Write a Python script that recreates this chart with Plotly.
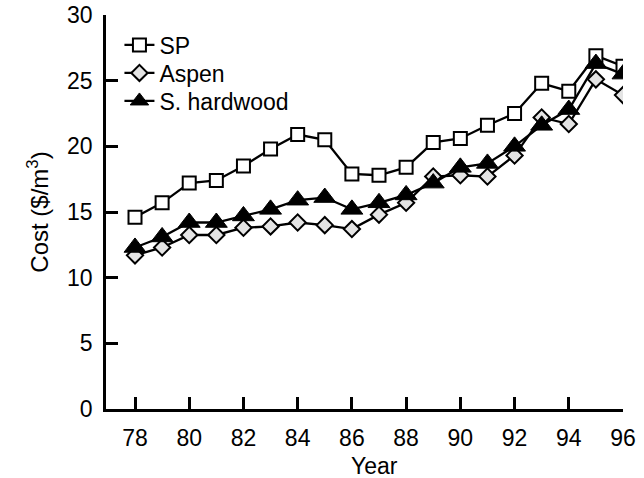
import plotly.graph_objects as go

# Annual delivered wood cost by species group
years = list(range(78, 97))
sp_cost = [14.6, 15.7, 17.2, 17.4, 18.5, 19.8, 20.9, 20.5, 17.9, 17.8,
           18.4, 20.3, 20.6, 21.6, 22.5, 24.8, 24.2, 26.9, 26.1]
aspen_cost = [11.7, 12.3, 13.25, 13.25, 13.8, 13.9, 14.2, 14.0, 13.7, 14.8,
              15.7, 17.7, 17.8, 17.7, 19.3, 22.2, 21.7, 25.1, 23.9]
hardwood_cost = [12.3, 13.1, 14.2, 14.2, 14.7, 15.2, 15.9, 16.1, 15.2, 15.7,
                 16.3, 17.2, 18.4, 18.7, 20.0, 21.6, 22.8, 26.3, 25.5]

x_ticks = list(range(78, 97, 2))
y_ticks = list(range(0, 31, 5))

FONT = "Liberation Sans, Arial, sans-serif"
LEG_FONT = 23

fig = go.Figure()
fig.add_trace(go.Scatter(
    x=years, y=sp_cost, name="SP", mode="lines+markers", legend="legend",
    line=dict(color="black", width=2.3),
    marker=dict(symbol="square", size=13, color="white",
                line=dict(color="black", width=2)),
))
fig.add_trace(go.Scatter(
    x=years, y=aspen_cost, name="Aspen", mode="lines+markers", legend="legend2",
    line=dict(color="black", width=2.3),
    marker=dict(symbol="diamond", size=12.5, color="#e4e4e4",
                line=dict(color="black", width=2)),
))
fig.add_trace(go.Scatter(
    x=years, y=hardwood_cost, name="S. hardwood", mode="lines+markers",
    legend="legend3",
    line=dict(color="black", width=2.3),
    marker=dict(symbol="triangle-up", size=19, color="black",
                line=dict(color="black", width=1)),
))


def legend_box(y_center):
    return dict(x=0.026, y=y_center, xanchor="left", yanchor="middle",
                bgcolor="rgba(0,0,0,0)", borderwidth=0,
                font=dict(size=LEG_FONT))


# plot area spans 394 px vertically, starting 15 px below the top
def frac_from_top(px):
    return 1 - (px - 15) / 394


fig.update_layout(
    width=644, height=478,
    margin=dict(l=106, r=21, t=15, b=69),
    paper_bgcolor="white", plot_bgcolor="white",
    font=dict(family=FONT, size=22, color="black"),
    showlegend=True,
    legend=legend_box(frac_from_top(45)),
    legend2=legend_box(frac_from_top(73)),
    legend3=legend_box(frac_from_top(101)),
    xaxis=dict(
        range=[76.93, 96.0], tickvals=x_ticks,
        ticks="inside", ticklen=12, tickwidth=2.5, tickcolor="black",
        showline=True, linecolor="black", linewidth=2.5,
        showgrid=False, zeroline=False, automargin=False,
        ticklabelstandoff=7,
        tickfont=dict(size=23),
    ),
    yaxis=dict(
        range=[0, 30], tickvals=y_ticks,
        ticks="inside", ticklen=12, tickwidth=2.5, tickcolor="black",
        showline=True, linecolor="black", linewidth=2.5,
        showgrid=False, zeroline=False, automargin=False,
        ticklabelstandoff=6,
        tickfont=dict(size=23),
        title=dict(text="Cost ($/m<sup>3</sup>)", font=dict(size=24), standoff=12),
    ),
    annotations=[dict(
        text="Year", xref="paper", yref="paper", x=0.52, y=0,
        xanchor="center", yanchor="middle", yshift=-57,
        showarrow=False, font=dict(size=23),
    )],
)

fig.write_html("out.html")
